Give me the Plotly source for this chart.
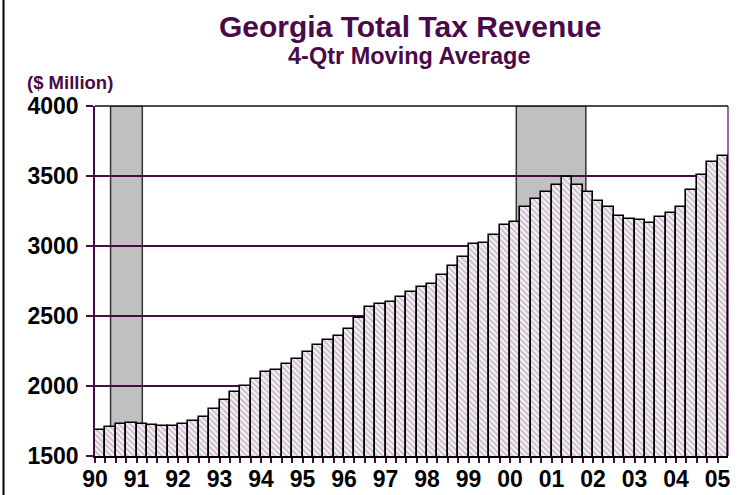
import plotly.graph_objects as go

# Quarterly 4-quarter moving average of Georgia total tax revenue, 1990Q1-2005Q1 ($ million)
quarters = [f"{y % 100:02d}Q{q}" for y in range(1990, 2006) for q in range(1, 5)][:61]
revenue = [
    1686, 1705, 1726, 1738, 1726, 1724, 1714, 1714,
    1726, 1748, 1779, 1833, 1898, 1960, 2002, 2048,
    2100, 2112, 2157, 2195, 2240, 2293, 2326, 2359,
    2410, 2488, 2562, 2583, 2602, 2636, 2669, 2710,
    2731, 2795, 2860, 2924, 3012, 3024, 3076, 3150,
    3171, 3279, 3333, 3386, 3438, 3493, 3438, 3386,
    3321, 3279, 3214, 3195, 3183, 3162, 3205, 3238,
    3279, 3400, 3505, 3602, 3645,
]
year_labels = ["90", "91", "92", "93", "94", "95", "96", "97",
               "98", "99", "00", "01", "02", "03", "04", "05"]
# Recession periods, in bar-index units
recessions = [(1.0, 4.06), (40.1, 46.8)]

PURPLE = "#4a0a4a"
FONT = "Liberation Sans"

W, H = 746, 495
ML, MR, MT, MB = 95, 18, 106, 39
plot_w = W - ML - MR
plot_h = H - MT - MB

x_idx = list(range(len(revenue)))

fig = go.Figure()
fig.add_trace(go.Bar(
    x=x_idx,
    y=revenue,
    customdata=quarters,
    hovertemplate="%{customdata}: %{y}<extra></extra>",
    width=1.0,
    marker=dict(
        color="#f4eef4",
        line=dict(color="#000000", width=1.6),
        pattern=dict(shape="\\", fgcolor="#947894", bgcolor="#f6f0f6",
                     size=4, solidity=0.38),
    ),
))

# Tick positions at every bar boundary, labelled at the start of each year
tickvals = [i - 0.5 for i in range(len(revenue))]
ticktext = []
for i in range(len(revenue)):
    if i % 4 == 0 and i // 4 < len(year_labels):
        ticktext.append(year_labels[i // 4])
    else:
        ticktext.append("")

shapes = []
for x0, x1 in recessions:
    shapes.append(dict(type="rect", xref="x", yref="y", x0=x0, x1=x1,
                       y0=1500, y1=4000, layer="below",
                       fillcolor="#c0c0c0",
                       line=dict(color="#333333", width=1.5)))
# top frame line and right frame line of the plot area
shapes.append(dict(type="line", xref="paper", yref="paper", x0=0, x1=1,
                   y0=1, y1=1, line=dict(color="#111111", width=1.5)))
shapes.append(dict(type="line", xref="paper", yref="paper", x0=1, x1=1,
                   y0=0, y1=1, layer="below", line=dict(color="#7a3a7a", width=1.5)))
# outer border on the left edge of the figure
shapes.append(dict(type="line", xref="paper", yref="paper",
                   x0=(3.5 - ML) / plot_w, x1=(3.5 - ML) / plot_w,
                   y0=(MB - H) / plot_h, y1=(H - MB) / plot_h + 1,
                   line=dict(color="#000000", width=2)))


def px_y(ypix):
    return (H - MB - ypix) / plot_h


def px_x(xpix):
    return (xpix - ML) / plot_w


annotations = [
    dict(text="<b>Georgia Total Tax Revenue</b>", xref="paper", yref="paper",
         x=px_x(410), y=px_y(27), xanchor="center", yanchor="middle",
         showarrow=False, font=dict(family=FONT, size=30, color=PURPLE)),
    dict(text="<b>4-Qtr Moving Average</b>", xref="paper", yref="paper",
         x=px_x(409), y=px_y(56), xanchor="center", yanchor="middle",
         showarrow=False, font=dict(family=FONT, size=23.5, color=PURPLE)),
    dict(text="<b>($ Million)</b>", xref="paper", yref="paper",
         x=px_x(25), y=px_y(82), xanchor="left", yanchor="middle",
         showarrow=False, font=dict(family=FONT, size=18.5, color=PURPLE)),
]

fig.update_layout(
    width=W, height=H,
    margin=dict(l=ML, r=MR, t=MT, b=MB, pad=0, autoexpand=False),
    paper_bgcolor="white",
    plot_bgcolor="white",
    showlegend=False,
    bargap=0,
    shapes=shapes,
    annotations=annotations,
    xaxis=dict(
        range=[-0.5, len(revenue) - 0.5],
        automargin=False,
        tickmode="array", tickvals=tickvals, ticktext=ticktext,
        ticks="outside", ticklen=5, tickwidth=1.5, tickcolor=PURPLE,
        tickfont=dict(family=FONT, size=23, color="#000000", weight="bold"),
        ticklabelstandoff=-4,
        showgrid=False, zeroline=False,
        showline=True, linecolor="#000000", linewidth=2,
        tickangle=0,
    ),
    yaxis=dict(
        range=[1500, 4000],
        automargin=False,
        tickmode="array", tickvals=[1500, 2000, 2500, 3000, 3500, 4000],
        ticks="outside", ticklen=7, tickwidth=1.5, tickcolor=PURPLE,
        tickfont=dict(family=FONT, size=23, color="#000000", weight="bold"),
        ticklabelstandoff=3,
        showgrid=True, gridcolor=PURPLE, gridwidth=1.5,
        zeroline=False,
        showline=True, linecolor=PURPLE, linewidth=1.5,
    ),
)

fig.write_html("out.html")
